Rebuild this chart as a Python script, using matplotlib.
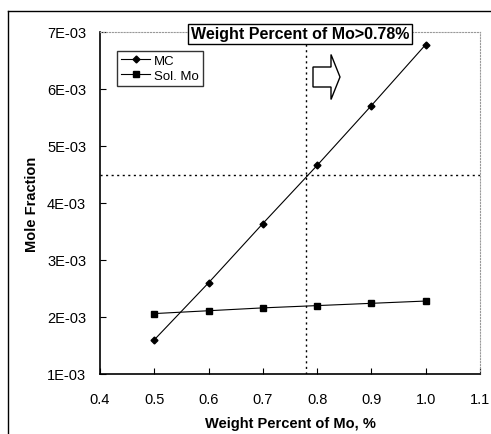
import matplotlib.pyplot as plt
import matplotlib.patches as mpatches
from matplotlib.lines import Line2D

# data
wt = [0.5, 0.6, 0.7, 0.8, 0.9, 1.0]
mc = [1.60e-3, 2.60e-3, 3.64e-3, 4.66e-3, 5.71e-3, 6.78e-3]
sol_mo = [2.06e-3, 2.11e-3, 2.16e-3, 2.20e-3, 2.24e-3, 2.28e-3]
x_cut = 0.78
y_cut = 4.5e-3
yticks = [1e-3, 2e-3, 3e-3, 4e-3, 5e-3, 6e-3, 7e-3]
ylabels = ['1E-03', '2E-03', '3E-03', '4E-03', '5E-03', '6E-03', '7E-03']
xticks = [0.4, 0.5, 0.6, 0.7, 0.8, 0.9, 1.0, 1.1]
xlabels = ['0.4', '0.5', '0.6', '0.7', '0.8', '0.9', '1.0', '1.1']

plt.rcParams['font.family'] = ['Liberation Sans', 'DejaVu Sans']

fig = plt.figure(figsize=(4.91, 4.35), dpi=100)
ax = fig.add_axes([100/491, 1-375/435, 380/491, 342/435])

# outer frame (left and top lines only visible)
fig.add_artist(Line2D([8/491, 8/491], [0, 1-12/435], color='black', lw=1))
fig.add_artist(Line2D([8/491, 1], [1-12/435, 1-12/435], color='black', lw=1))

ax.plot(wt, mc, color='black', lw=0.8, marker='D', ms=3.5, label='MC')
ax.plot(wt, sol_mo, color='black', lw=0.8, marker='s', ms=4.5, label='Sol. Mo')

ax.axvline(x_cut, color='black', lw=1, ls=(0, (1.5, 2.5)))
ax.axhline(y_cut, color='black', lw=1, ls=(0, (1.5, 2.5)))

ax.set_xlim(0.4, 1.1)
ax.set_ylim(1e-3, 7e-3)
ax.set_xticks(xticks)
ax.set_xticklabels(xlabels)
ax.set_yticks(yticks)
ax.set_yticklabels(ylabels)
ax.tick_params(direction='in', length=4, labelsize=10.5)
ax.tick_params(axis='x', pad=13)
ax.tick_params(axis='y', pad=10)

for s in ['top', 'right']:
    ax.spines[s].set_color('#999999')
    ax.spines[s].set_linestyle(':')
    ax.spines[s].set_linewidth(0.8)
for s in ['left', 'bottom']:
    ax.spines[s].set_linewidth(1.2)

ax.set_xlabel('Weight Percent of Mo, %', fontsize=10.5, fontweight='bold', labelpad=7)
ax.set_ylabel('Mole Fraction', fontsize=10.5, fontweight='bold', labelpad=6)

leg = ax.legend(loc='upper left', bbox_to_anchor=(0.045, 0.945), fontsize=9.5,
                frameon=True, fancybox=False, edgecolor='black',
                borderpad=0.3, labelspacing=0.2, handlelength=2.2,
                handletextpad=0.3, borderaxespad=0)
leg.get_frame().set_linewidth(1)

fig.text(300/491, 1-35/435, 'Weight Percent of Mo>0.78%', fontsize=11.5,
         fontweight='bold', ha='center', va='center',
         bbox=dict(boxstyle='square,pad=0.15', fc='white', ec='black', lw=1))

arrow = mpatches.FancyArrow((313-100)/380, 1-(78-33)/342, (340-313)/380, 0,
                            width=20/342, head_width=45/342, head_length=9/380,
                            length_includes_head=True, transform=ax.transAxes,
                            fc='white', ec='black', lw=1)
ax.add_patch(arrow)

fig.savefig('out.png', dpi=100)
